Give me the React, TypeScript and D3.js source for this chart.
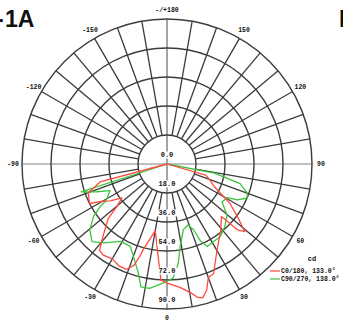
import React from "react";
import * as d3 from "d3";

const ringValues = [18, 36, 54, 72, 90];
const ringLabels = ["0.0", "18.0", "36.0", "54.0", "72.0", "90.0"];
const angleTicks = [180, 150, 120, 90, 60, 30, 0, -30, -60, -90, -120, -150];
const angleTickLabels = ["-/+180", "150", "120", "90", "60", "30", "0", "-30", "-60", "-90", "-120", "-150"];

const redAngles = [-85, -75, -70, -63, -60, -57, -53, -50, -47, -44, -41, -38, -35, -30, -25, -21, -18, -16.5, -15.5, -10, -5, -3, 0, 6, 11, 13, 15, 17.5, 20, 23, 30, 39, 46, 47, 49, 53, 58, 64, 70, 74, 80];
const redValues = [0, 43, 52, 54, 46, 42, 35, 40, 50, 55, 61, 68, 69, 68, 70, 70, 66, 60, 55, 42, 60, 72, 74, 77, 82, 85, 86, 82, 75, 74, 62, 53, 47, 60, 64, 55, 46, 33, 28, 25, 0];

const greenAngles = [-85, -72, -68.5, -65, -59, -57.5, -54.5, -49.5, -44, -39, -31, -24, -20, -14.7, -12, -8, -2, 3, 6.5, 9, 14, 19, 22, 23.5, 26, 31.5, 36, 42.5, 49.5, 55.5, 61, 63, 67, 70, 75, 79, 85];
const greenValues = [0, 56, 47, 39, 44, 49, 56, 63, 67, 63, 56, 56, 61, 70, 78, 78, 74, 71, 62, 52, 42, 40, 44, 52, 57, 56, 56, 53, 49, 41.5, 43, 49, 54, 53, 47, 30, 0];

const legendNames = ["C0/180, 133.0°", "C90/270, 138.0°"];
const legendColors = ["#ff4b3a", "#3cc43c"];

export default function App() {
  const W = 343, H = 324;
  const cx = 167, cy = 164;
  const r = d3.scaleLinear().domain([0, 90]).range([0, 145]);
  const toRad = (deg: number) => ((180 - deg) * Math.PI) / 180;
  const pt = (deg: number, rad: number) => {
    const a = toRad(deg);
    return [cx + rad * Math.sin(a), cy - rad * Math.cos(a)];
  };
  const line = d3
    .lineRadial<[number, number]>()
    .angle((d) => toRad(d[0]))
    .radius((d) => r(d[1]));
  const redPath = line(redAngles.map((a, i) => [a, redValues[i]]) as [number, number][]) || "";
  const greenPath = line(greenAngles.map((a, i) => [a, greenValues[i]]) as [number, number][]) || "";
  const spokes = d3.range(-170, 190, 10).filter((a) => a % 90 !== 0);
  const gridColor = "#3c3c3c";
  const mono = "'Liberation Mono', 'DejaVu Sans Mono', monospace";

  return (
    <svg width={W} height={H} style={{ position: "absolute", left: 0, top: 0, background: "#fff" }}>
      <rect width={W} height={H} fill="#fff" />
      {spokes.map((a) => {
        const [x1, y1] = pt(a, r(18));
        const [x2, y2] = pt(a, r(90));
        return <line key={a} x1={x1} y1={y1} x2={x2} y2={y2} stroke={gridColor} strokeWidth={1.3} />;
      })}
      <line x1={cx - r(90)} y1={cy} x2={cx + r(90)} y2={cy} stroke="#808080" strokeWidth={1.1} />
      <line x1={cx} y1={cy - r(90)} x2={cx} y2={cy + r(90)} stroke="#5a5a5a" strokeWidth={1.1} />
      {ringValues.map((v) => (
        <circle key={v} cx={cx} cy={cy} r={r(v)} fill="none" stroke={gridColor} strokeWidth={1.4} />
      ))}
      <g transform={`translate(${cx},${cy})`}>
        <path d={greenPath} fill="none" stroke={legendColors[1]} strokeWidth={1.3} strokeLinejoin="round" />
        <path d={redPath} fill="none" stroke={legendColors[0]} strokeWidth={1.3} strokeLinejoin="round" />
      </g>
      {ringLabels.map((t, i) => {
        const y = cy + r(i * 18) - 9;
        return (
          <g key={t}>
            <rect x={cx - 10} y={y - 3.5} width={20} height={7} fill="#fff" />
            <text x={cx} y={y} textAnchor="middle" dominantBaseline="middle" fontFamily={mono} fontWeight="bold" fontSize={7} fill="#111">
              {t}
            </text>
          </g>
        );
      })}
      {angleTicks.map((a, i) => {
        const [x, y] = pt(a, 154);
        return (
          <text key={a} x={x} y={y} textAnchor="middle" dominantBaseline="middle" fontFamily={mono} fontWeight="bold" fontSize={6.5} fill="#111">
            {angleTickLabels[i]}
          </text>
        );
      })}
      <text x={312} y={261} textAnchor="middle" fontFamily={mono} fontWeight="bold" fontSize={7} fill="#111">cd</text>
      {legendNames.map((n, i) => (
        <g key={n}>
          <line x1={270} x2={280} y1={271 + i * 8} y2={271 + i * 8} stroke={legendColors[i]} strokeWidth={1.2} />
          <text x={281} y={271 + i * 8} dominantBaseline="middle" fontFamily={mono} fontWeight="bold" fontSize={6.5} fill="#111">
            {n}
          </text>
        </g>
      ))}
      <text x={-4} y={27} fontFamily="'Liberation Sans', Arial, sans-serif" fontWeight="bold" fontSize={23} fill="#111">-</text>
      <text x={5} y={27} fontFamily="'Liberation Sans', Arial, sans-serif" fontWeight="bold" fontSize={23} fill="#111">1A</text>
      <text x={339} y={27} fontFamily="'Liberation Sans', Arial, sans-serif" fontWeight="bold" fontSize={23} fill="#111">B</text>
    </svg>
  );
}
